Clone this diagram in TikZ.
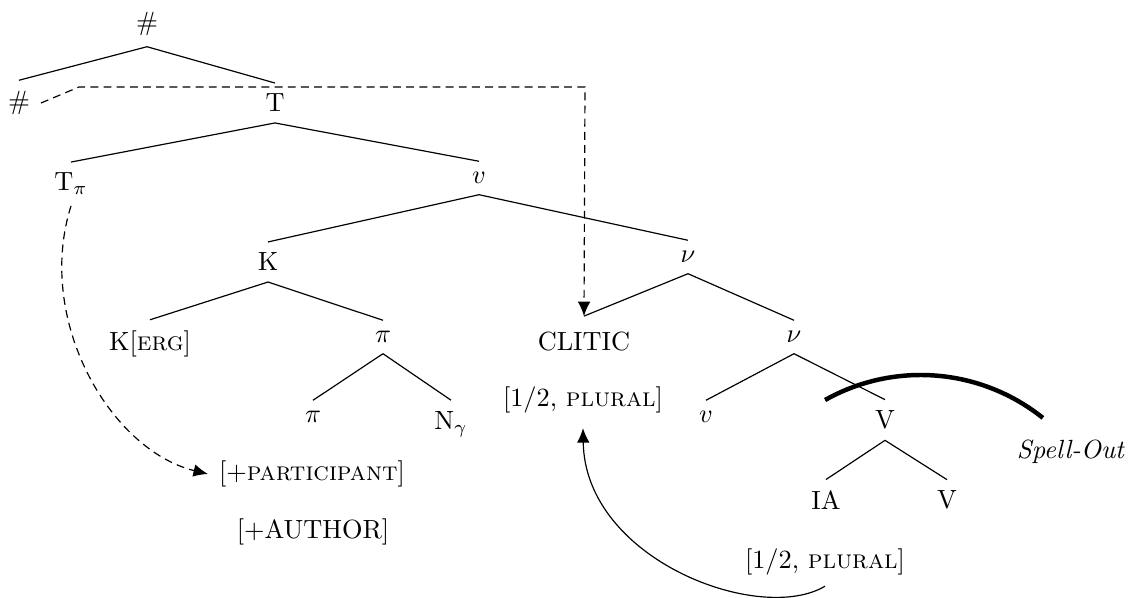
\documentclass[tikz,border=0pt]{standalone}
\usetikzlibrary{arrows.meta}
\begin{document}
\begin{tikzpicture}[x=0.38pt,y=-0.38pt]
\tikzset{
  tn/.style={inner xsep=4pt, inner ysep=4pt, font=\normalsize},
  edge/.style={line width=0.45pt},
  dsh/.style={dash pattern=on 3pt off 2pt, line width=0.45pt},
  tip/.style={-{Latex[length=5.5pt,width=4.8pt]}},
  spell/.style={line width=1.7pt},
}
\useasboundingbox (0,0) rectangle (1132,598);
% tree nodes
\node[tn] (hashTop) at (147,24) {\#};
\node[tn] (hashL) at (19,103) {\#};
\node[tn] (T) at (275,103) {T};
\node[tn] (Tpi) at (71,184) {T$_\pi$};
\node[tn] (v2) at (479,178) {$v$};
\node[tn] (K) at (268,262) {K};
\node[tn] (nu1) at (688,257) {$\nu$};
\node[tn] (Kerg) at (150,344) {K[\textsc{erg}]};
\node[tn] (pi1) at (383,337) {$\pi$};
\node[tn] (clitic) at (584,342) {CLITIC};
\node[tn] (nu2) at (794,337) {$\nu$};
\node[tn] (plural1) at (583,400) {$[$1/2, \textsc{plural}$]$};
\node[tn] (pi2) at (313,417) {$\pi$};
\node[tn] (Ngam) at (451,424) {N$_\gamma$};
\node[tn] (v5) at (706,417) {$v$};
\node[tn] (V1) at (885,420) {V};
\node[tn] (part) at (312,474) {$[+$\textsc{participant}$]$};
\node[tn] (author) at (313,532) {$[+$AUTHOR$]$};
\node[tn] (IA) at (826,500) {IA};
\node[tn] (V2) at (947,500) {V};
\node[tn] (plural2) at (825,562) {$[$1/2, \textsc{plural}$]$};
\node[tn] (spell) at (1071,452) {\textit{Spell-Out}};
% tree edges
\draw[edge] (hashTop.south) -- (hashL.north);
\draw[edge] (hashTop.south) -- (T.north);
\draw[edge] (T.south) -- (Tpi.north);
\draw[edge] (T.south) -- (v2.north);
\draw[edge] (v2.south) -- (K.north);
\draw[edge] (v2.south) -- (nu1.north);
\draw[edge] (K.south) -- (Kerg.north);
\draw[edge] (K.south) -- (pi1.north);
\draw[edge] (pi1.south) -- (pi2.north);
\draw[edge] (pi1.south) -- (Ngam.north);
\draw[edge] (nu1.south) -- ([yshift=2pt]clitic.north);
\draw[edge] (nu1.south) -- (nu2.north);
\draw[edge] (nu2.south) -- (v5.north);
\draw[edge] (nu2.south) -- (V1.north);
\draw[edge] (V1.south) -- (IA.north);
\draw[edge] (V1.south) -- (V2.north);
% movement arrows
\coordinate (d1) at (79,87);
\coordinate (d2) at (585,87);
\draw[dsh,tip] (hashL.east) -- (d1) -- (d2) -- ([yshift=2pt]clitic.north);
\draw[dsh,tip] (Tpi.south) .. controls (35,320) and (110,450) .. (part.west);
\draw[edge,tip] (plural2.south) .. controls (760,625) and (585,560) .. ([yshift=-1.5pt]plural1.south);
% spell-out arc
\draw[spell] plot[domain=-119.3:-51.3, smooth, samples=40] ({920.7+195.4*cos(\x)},{570.4+195.4*sin(\x)});
\end{tikzpicture}
\end{document}
